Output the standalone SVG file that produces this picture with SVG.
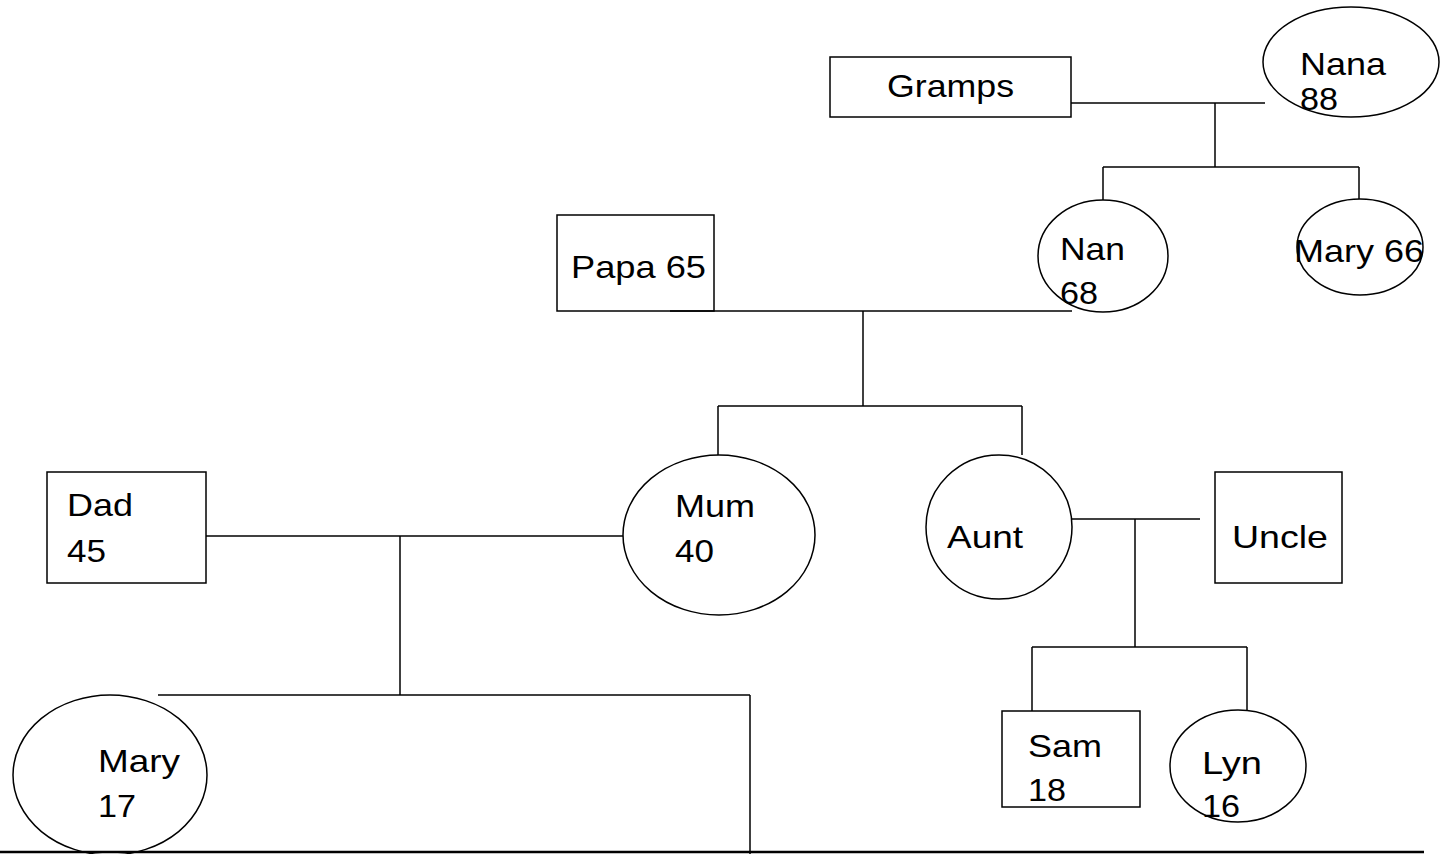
<svg xmlns="http://www.w3.org/2000/svg" width="1448" height="854" viewBox="0 0 1448 854">
<style>
.s{fill:#fff;stroke:#000;stroke-width:1.5}
.c line{stroke:#000;stroke-width:1.5}
text{font-family:"Liberation Sans",Arial,sans-serif;font-size:32px;fill:#000}
</style>
<rect width="1448" height="854" fill="#fff"/>
<g id="gramps"><rect class="s" x="830" y="57" width="241" height="60"/><text x="887" y="97" textLength="127" lengthAdjust="spacingAndGlyphs">Gramps</text></g>
<g id="nana"><ellipse class="s" cx="1351" cy="62" rx="88" ry="55"/><text x="1300" y="75" textLength="86" lengthAdjust="spacingAndGlyphs">Nana</text><text x="1300" y="110" textLength="38" lengthAdjust="spacingAndGlyphs">88</text></g>
<g id="nan"><ellipse class="s" cx="1103" cy="256" rx="65" ry="56"/><text x="1060" y="260" textLength="65" lengthAdjust="spacingAndGlyphs">Nan</text><text x="1060" y="304" textLength="38" lengthAdjust="spacingAndGlyphs">68</text></g>
<g id="mary66"><ellipse class="s" cx="1360" cy="247" rx="63" ry="48"/><text x="1294" y="262" textLength="130" lengthAdjust="spacingAndGlyphs">Mary 66</text></g>
<g id="papa"><rect class="s" x="557" y="215" width="157" height="96"/><text x="571" y="278" textLength="135" lengthAdjust="spacingAndGlyphs">Papa 65</text></g>
<g id="mum"><ellipse class="s" cx="719" cy="535" rx="96" ry="80"/><text x="675" y="517" textLength="80" lengthAdjust="spacingAndGlyphs">Mum</text><text x="675" y="562" textLength="39" lengthAdjust="spacingAndGlyphs">40</text></g>
<g id="aunt"><ellipse class="s" cx="999" cy="527" rx="73" ry="72"/><text x="947" y="548" textLength="76" lengthAdjust="spacingAndGlyphs">Aunt</text></g>
<g id="uncle"><rect class="s" x="1215" y="472" width="127" height="111"/><text x="1232" y="548" textLength="96" lengthAdjust="spacingAndGlyphs">Uncle</text></g>
<g id="dad"><rect class="s" x="47" y="472" width="159" height="111"/><text x="67" y="516" textLength="66" lengthAdjust="spacingAndGlyphs">Dad</text><text x="67" y="562" textLength="39" lengthAdjust="spacingAndGlyphs">45</text></g>
<g id="sam"><rect class="s" x="1002" y="711" width="138" height="96"/><text x="1028" y="757" textLength="74" lengthAdjust="spacingAndGlyphs">Sam</text><text x="1028" y="801" textLength="38" lengthAdjust="spacingAndGlyphs">18</text></g>
<g id="lyn"><ellipse class="s" cx="1238" cy="766" rx="68" ry="56"/><text x="1202" y="774" textLength="60" lengthAdjust="spacingAndGlyphs">Lyn</text><text x="1202" y="817" textLength="38" lengthAdjust="spacingAndGlyphs">16</text></g>
<g id="mary17"><ellipse class="s" cx="110" cy="775" rx="97" ry="80"/><text x="98" y="772" textLength="82" lengthAdjust="spacingAndGlyphs">Mary</text><text x="98" y="817" textLength="38" lengthAdjust="spacingAndGlyphs">17</text></g>
<g id="connectors" class="c">
<line x1="1071" y1="103" x2="1265" y2="103"/>
<line x1="1215" y1="103" x2="1215" y2="167"/>
<line x1="1103" y1="167" x2="1359" y2="167"/>
<line x1="1103" y1="167" x2="1103" y2="200"/>
<line x1="1359" y1="167" x2="1359" y2="199"/>
<line x1="670" y1="311" x2="1072" y2="311"/>
<line x1="863" y1="311" x2="863" y2="406"/>
<line x1="718" y1="406" x2="1022" y2="406"/>
<line x1="718" y1="406" x2="718" y2="455"/>
<line x1="1022" y1="406" x2="1022" y2="455"/>
<line x1="1072" y1="519" x2="1200" y2="519"/>
<line x1="1135" y1="519" x2="1135" y2="647"/>
<line x1="1032" y1="647" x2="1247" y2="647"/>
<line x1="1032" y1="647" x2="1032" y2="711"/>
<line x1="1247" y1="647" x2="1247" y2="710"/>
<line x1="206" y1="536" x2="623" y2="536"/>
<line x1="400" y1="536" x2="400" y2="695"/>
<line x1="158" y1="695" x2="750" y2="695"/>
<line x1="750" y1="695" x2="750" y2="854"/>
<line x1="0" y1="852" x2="1424" y2="852" style="stroke-width:2.5"/>
</g>
</svg>
